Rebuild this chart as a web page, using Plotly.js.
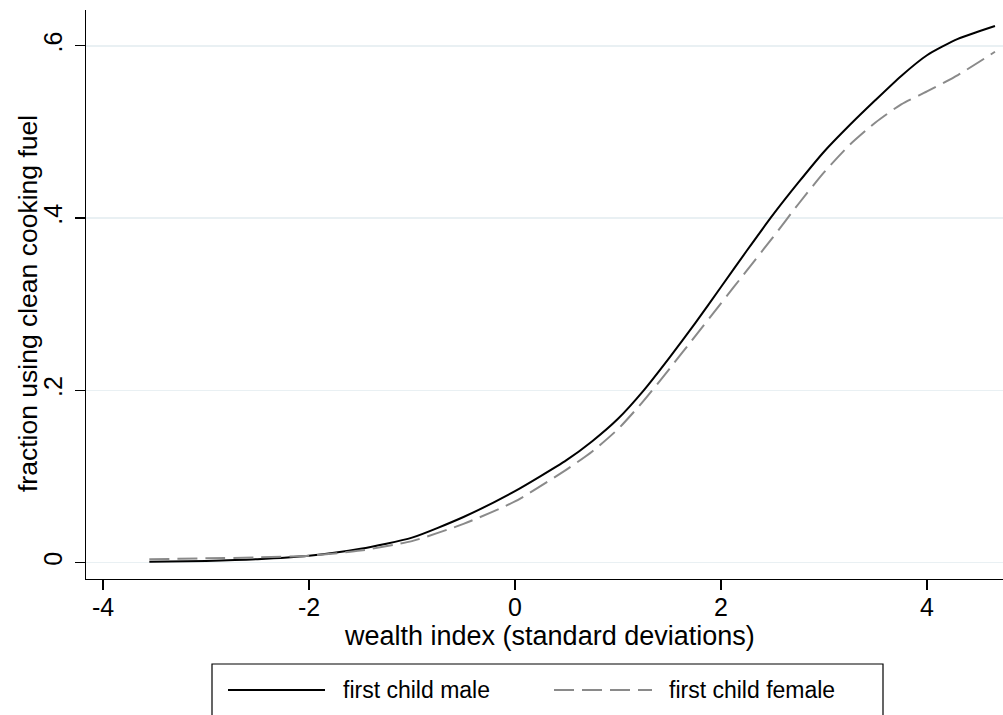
<!DOCTYPE html>
<html>
<head>
<meta charset="utf-8">
<script src="https://cdn.plot.ly/plotly-3.0.1.min.js"></script>
<style>html,body{margin:0;padding:0;background:#fff;}#chart{width:1003px;height:715px;}</style>
</head>
<body>
<div id="chart"></div>
<script>
// wealth index grid (standard deviations)
const wealth = [-3.55, -3, -2.5, -2, -1.5, -1, -0.5, 0, 0.5, 0.75, 1, 1.25, 1.5, 1.75, 2, 2.25, 2.5, 2.75, 3, 3.25, 3.5, 3.75, 4, 4.3, 4.66];
// fraction using clean cooking fuel
const firstChildMale   = [0.001, 0.002, 0.004, 0.008, 0.016, 0.029, 0.053, 0.083, 0.119, 0.141, 0.167, 0.200, 0.238, 0.278, 0.320, 0.362, 0.403, 0.441, 0.477, 0.508, 0.537, 0.565, 0.589, 0.608, 0.623];
const firstChildFemale = [0.004, 0.005, 0.006, 0.008, 0.014, 0.025, 0.045, 0.071, 0.108, 0.129, 0.155, 0.188, 0.225, 0.263, 0.301, 0.339, 0.377, 0.416, 0.453, 0.485, 0.511, 0.532, 0.547, 0.566, 0.593];
const seriesNames = ["first child male", "first child female"];
const xTickVals = [-4, -2, 0, 2, 4];
const xTickText = ["-4", "-2", "0", "2", "4"];
const yTickVals = [0, 0.2, 0.4, 0.6];
const yTickText = ["0", ".2", ".4", ".6"];
const xTitle = "wealth index (standard deviations)";
const yTitle = "fraction using clean cooking fuel";

const W = 1003, H = 715;
const M = {l: 86, r: 0, t: 10, b: 136};
const plotW = W - M.l - M.r, plotH = H - M.t - M.b;
const px = x => (x - M.l) / plotW;            // pixel -> paper x
const py = y => (H - M.b - y) / plotH;        // pixel -> paper y

const FONT = "Liberation Sans, Arial, Helvetica, sans-serif";
const maleStyle = {color: "#000000", width: 2};
const femaleStyle = {color: "#8a8a8a", width: 2, dash: "20px,8px"};

const traces = [
  {x: wealth, y: firstChildMale, mode: "lines", name: seriesNames[0],
   line: Object.assign({shape: "spline", smoothing: 0.6}, maleStyle), showlegend: false, hoverinfo: "x+y"},
  {x: wealth, y: firstChildFemale, mode: "lines", name: seriesNames[1],
   line: Object.assign({shape: "spline", smoothing: 0.6}, femaleStyle), showlegend: false, hoverinfo: "x+y"}
];

const legY = py(690);
const layout = {
  width: W, height: H,
  margin: M,
  paper_bgcolor: "#ffffff",
  plot_bgcolor: "#ffffff",
  font: {family: FONT, size: 23, color: "#000"},
  showlegend: false,
  xaxis: {
    range: [-4.165, 4.738],
    tickvals: xTickVals, ticktext: xTickText,
    ticks: "outside", ticklen: 10, tickwidth: 1.3, tickcolor: "#000",
    showline: true, linecolor: "#000", linewidth: 1.3,
    showgrid: false, zeroline: false,
    ticklabelstandoff: -4,
    tickfont: {family: FONT, size: 25, color: "#000"}
  },
  yaxis: {
    range: [-0.0190, 0.6415],
    tickvals: yTickVals, ticktext: yTickText,
    tickangle: -90,
    ticks: "outside", ticklen: 10, tickwidth: 1.3, tickcolor: "#000",
    showline: true, linecolor: "#000", linewidth: 1.3,
    showgrid: true, gridcolor: "#e9f0f3", gridwidth: 1.5,
    zeroline: false,
    ticklabelstandoff: 3,
    tickfont: {family: FONT, size: 25, color: "#000"}
  },
  shapes: [
    {type: "rect", xref: "paper", yref: "paper", x0: px(212), x1: px(883), y0: py(664), y1: py(725),
     line: {color: "#000", width: 1.2}, fillcolor: "rgba(0,0,0,0)"},
    {type: "line", xref: "paper", yref: "paper", x0: px(228), x1: px(325), y0: legY, y1: legY, line: maleStyle},
    {type: "line", xref: "paper", yref: "paper", x0: px(554), x1: px(652), y0: legY, y1: legY, line: femaleStyle}
  ],
  annotations: [
    {text: xTitle, xref: "paper", yref: "paper", x: px(549), y: py(636), xanchor: "center", yanchor: "middle",
     showarrow: false, font: {family: FONT, size: 27, color: "#000"}},
    {text: yTitle, xref: "paper", yref: "paper", x: px(28), y: py(304), xanchor: "center", yanchor: "middle",
     textangle: -90, showarrow: false, font: {family: FONT, size: 26.5, color: "#000"}},
    {text: seriesNames[0], xref: "paper", yref: "paper", x: px(341), y: legY, xanchor: "left", yanchor: "middle",
     showarrow: false, font: {family: FONT, size: 23, color: "#000"}},
    {text: seriesNames[1], xref: "paper", yref: "paper", x: px(667), y: legY, xanchor: "left", yanchor: "middle",
     showarrow: false, font: {family: FONT, size: 23, color: "#000"}}
  ]
};

Plotly.newPlot("chart", traces, layout, {displayModeBar: false, staticPlot: true});
</script>
</body>
</html>
